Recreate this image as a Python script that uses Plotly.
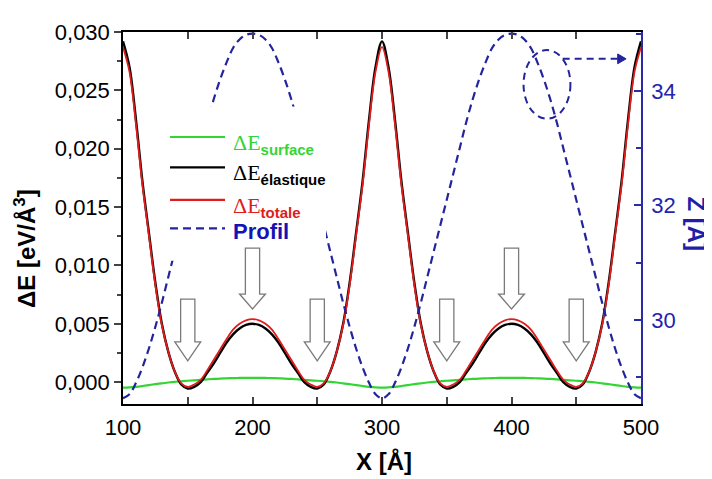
import plotly.graph_objects as go

# ---------------- data ----------------
X = list(range(100, 505, 5))

dE_surface = [
    -0.00047, -0.00045, -0.00040, -0.00033, -0.00025, -0.00017, -0.00010, -0.00003, 0.00003, 0.00008,
    0.00012, 0.00016, 0.00020, 0.00024, 0.00028, 0.00031, 0.00033, 0.00035, 0.00036, 0.00037, 0.00037,
    0.00037, 0.00036, 0.00035, 0.00033, 0.00031, 0.00028, 0.00024, 0.00020, 0.00016, 0.00012,
    0.00008, 0.00003, -0.00003, -0.00010, -0.00017, -0.00025, -0.00033, -0.00040, -0.00045, -0.00047,
    -0.00045, -0.00040, -0.00033, -0.00025, -0.00017, -0.00010, -0.00003, 0.00003, 0.00008, 0.00012,
    0.00016, 0.00020, 0.00024, 0.00028, 0.00031, 0.00033, 0.00035, 0.00036, 0.00037, 0.00037,
    0.00037, 0.00036, 0.00035, 0.00033, 0.00031, 0.00028, 0.00024, 0.00020, 0.00016, 0.00012,
    0.00008, 0.00003, -0.00003, -0.00010, -0.00017, -0.00025, -0.00033, -0.00040, -0.00045, -0.00047,
]

dE_elastique = [
    0.0292, 0.0270, 0.0225, 0.0172, 0.0128, 0.0085, 0.0050, 0.0026, 0.0009, -0.0002,
    -0.00055, -0.0004, 0.0000, 0.0008, 0.0016, 0.0025, 0.0034, 0.0041, 0.0046, 0.0049, 0.0050,
    0.0049, 0.0046, 0.0041, 0.0034, 0.0025, 0.0016, 0.0008, 0.0000, -0.0004, -0.00055,
    -0.0002, 0.0009, 0.0026, 0.0050, 0.0085, 0.0128, 0.0172, 0.0225, 0.0270, 0.0292,
    0.0270, 0.0225, 0.0172, 0.0128, 0.0085, 0.0050, 0.0026, 0.0009, -0.0002, -0.00055,
    -0.0004, 0.0000, 0.0008, 0.0016, 0.0025, 0.0034, 0.0041, 0.0046, 0.0049, 0.0050,
    0.0049, 0.0046, 0.0041, 0.0034, 0.0025, 0.0016, 0.0008, 0.0000, -0.0004, -0.00055,
    -0.0002, 0.0009, 0.0026, 0.0050, 0.0085, 0.0128, 0.0172, 0.0225, 0.0270, 0.0292,
]

dE_totale = [
    0.0287, 0.0266, 0.0221, 0.0169, 0.0126, 0.0083, 0.0049, 0.0026, 0.0009, -0.0001,
    -0.0004, -0.0002, 0.0002, 0.0010, 0.0019, 0.0028, 0.0037, 0.0045, 0.0050, 0.0053, 0.0054,
    0.0053, 0.0050, 0.0045, 0.0037, 0.0028, 0.0019, 0.0010, 0.0002, -0.0002, -0.0004,
    -0.0001, 0.0009, 0.0026, 0.0049, 0.0083, 0.0126, 0.0169, 0.0221, 0.0266, 0.0287,
    0.0266, 0.0221, 0.0169, 0.0126, 0.0083, 0.0049, 0.0026, 0.0009, -0.0001, -0.0004,
    -0.0002, 0.0002, 0.0010, 0.0019, 0.0028, 0.0037, 0.0045, 0.0050, 0.0053, 0.0054,
    0.0053, 0.0050, 0.0045, 0.0037, 0.0028, 0.0019, 0.0010, 0.0002, -0.0002, -0.0004,
    -0.0001, 0.0009, 0.0026, 0.0049, 0.0083, 0.0126, 0.0169, 0.0221, 0.0266, 0.0287,
]

profil_Z = [
    28.63, 28.70, 28.90, 29.17, 29.50, 29.88, 30.30, 30.75, 31.20, 31.65,
    32.10, 32.55, 33.00, 33.45, 33.85, 34.20, 34.50, 34.75, 34.90, 34.98, 35.00,
    34.98, 34.90, 34.75, 34.50, 34.20, 33.85, 33.45, 33.00, 32.55, 32.10,
    31.65, 31.20, 30.75, 30.30, 29.88, 29.50, 29.17, 28.90, 28.70, 28.63,
    28.70, 28.90, 29.17, 29.50, 29.88, 30.30, 30.75, 31.20, 31.65, 32.10,
    32.55, 33.00, 33.45, 33.85, 34.20, 34.50, 34.75, 34.90, 34.98, 35.00,
    34.98, 34.90, 34.75, 34.50, 34.20, 33.85, 33.45, 33.00, 32.55, 32.10,
    31.65, 31.20, 30.75, 30.30, 29.88, 29.50, 29.17, 28.90, 28.70, 28.63,
]

x_ticks = [100, 200, 300, 400, 500]
y_ticks = [0.000, 0.005, 0.010, 0.015, 0.020, 0.025, 0.030]
z_ticks = [30, 32, 34]
arrow_positions = [150, 200, 250, 350, 400, 450]
arrow_tall = [False, True, False, False, True, False]

# ---------------- styling ----------------
GREEN = "#35d435"
RED = "#e01c1c"
BLACK = "#000000"
BLUE = "#24249c"
AXBLUE = "#2b2ba6"
FONT = "Liberation Sans"

# plot area in page pixels; the page body adds an 8px margin
PAGE_W, PAGE_H, OFF = 712, 479, 8
L, R, T, B = 123, 641, 25, 404
W, H = PAGE_W - OFF, PAGE_H - OFF


def fx(px):
    return (px - L) / (R - L)


def fy(py):
    return (B - py) / (B - T)


fig = go.Figure()
fig.add_trace(go.Scatter(x=X, y=dE_surface, mode="lines", line=dict(color=GREEN, width=2.2, shape="spline"),
                         showlegend=False, name="ΔE surface"))
fig.add_trace(go.Scatter(x=X, y=dE_elastique, mode="lines", line=dict(color=BLACK, width=2.4, shape="spline"),
                         showlegend=False, name="ΔE élastique"))
fig.add_trace(go.Scatter(x=X, y=dE_totale, mode="lines", line=dict(color=RED, width=1.8, shape="spline"),
                         showlegend=False, name="ΔE totale"))
fig.add_trace(go.Scatter(x=X, y=profil_Z, mode="lines", yaxis="y2",
                         line=dict(color=BLUE, width=2.2, dash="8px,5px", shape="spline"),
                         showlegend=False, name="Profil"))

shapes = []
# white box behind the legend (hides the profile there)
shapes.append(dict(type="rect", xref="paper", yref="paper", x0=fx(158), x1=fx(326), y0=fy(258), y1=fy(101),
                   fillcolor="white", line=dict(width=0), layer="above"))
# legend samples
rows = [(132, GREEN, "solid"), (163, BLACK, "solid"), (196, RED, "solid"), (225, BLUE, "8px,5px")]
for ry, col, dash in rows:
    shapes.append(dict(type="line", xref="paper", yref="paper", x0=fx(170), x1=fx(225), y0=fy(ry), y1=fy(ry),
                       line=dict(color=col, width=2.2, dash=dash), layer="above"))

# block arrows
for xc, tall in zip(arrow_positions, arrow_tall):
    if tall:
        top, head, tip = 0.01148, 0.00755, 0.00627
    else:
        top, head, tip = 0.00711, 0.00345, 0.00182
    w, hw = 5.5, 10.0
    path = (f"M{xc - w},{top} L{xc + w},{top} L{xc + w},{head} L{xc + hw},{head} L{xc},{tip} "
            f"L{xc - hw},{head} L{xc - w},{head} Z")
    shapes.append(dict(type="path", xref="x", yref="y", path=path, fillcolor="white",
                       line=dict(color="#7a7a7a", width=1.3), layer="above"))

# dashed ellipse + dashed arrow
shapes.append(dict(type="circle", xref="x", yref="y", x0=409.3, x1=445.5, y0=0.02257, y1=0.02845,
                   line=dict(color=BLUE, width=2, dash="7px,5px"), layer="above"))
shapes.append(dict(type="line", xref="x", yref="y", x0=439.5, x1=483.0, y0=0.0277, y1=0.0277,
                   line=dict(color=BLUE, width=2, dash="7px,5px"), layer="above"))
shapes.append(dict(type="path", xref="x", yref="y",
                   path="M482.0,0.02812 L488.5,0.0277 L482.0,0.02728 Z",
                   fillcolor=BLUE, line=dict(color=BLUE, width=1), layer="above"))

SUB = "font-family:'Liberation Sans';font-weight:bold;font-size:15px"
annotations = [
    dict(x=fx(231), y=fy(139), xref="paper", yref="paper", xanchor="left", yanchor="middle", showarrow=False,
         text=f"ΔE<sub><span style=\"{SUB}\">surface</span></sub>",
         font=dict(family="Liberation Serif", size=22, color=GREEN)),
    dict(x=fx(231), y=fy(170), xref="paper", yref="paper", xanchor="left", yanchor="middle", showarrow=False,
         text=f"ΔE<sub><span style=\"{SUB}\">élastique</span></sub>",
         font=dict(family="Liberation Serif", size=22, color=BLACK)),
    dict(x=fx(231), y=fy(203), xref="paper", yref="paper", xanchor="left", yanchor="middle", showarrow=False,
         text=f"ΔE<sub><span style=\"{SUB}\">totale</span></sub>",
         font=dict(family="Liberation Serif", size=22, color=RED)),
    dict(x=fx(231), y=fy(228), xref="paper", yref="paper", xanchor="left", yanchor="middle", showarrow=False,
         text="<b>Profil</b>", font=dict(family=FONT, size=22, color="#1414b4")),
    # axis titles
    dict(x=fx(384), y=fy(463), xref="paper", yref="paper", xanchor="center", yanchor="middle", showarrow=False,
         text="<b>X [Å]</b>", font=dict(family=FONT, size=24, color="black")),
    dict(x=fx(25), y=fy(246), xref="paper", yref="paper", xanchor="center", yanchor="middle", showarrow=False,
         text="<b>ΔE [eV/Å<sup>3</sup>]</b>", textangle=-90, font=dict(family=FONT, size=24, color="black")),
    dict(x=fx(697), y=fy(220), xref="paper", yref="paper", xanchor="center", yanchor="middle", showarrow=False,
         text="<b>Z [Å]</b>", textangle=90, font=dict(family=FONT, size=24, color="#1f1fa8")),
]

fig.update_layout(
    width=W, height=H,
    margin=dict(l=L - OFF, r=PAGE_W - R, t=T - OFF, b=PAGE_H - B, pad=0),
    paper_bgcolor="white", plot_bgcolor="white",
    separators=",.",
    font=dict(family=FONT, size=22, color="black"),
    showlegend=False,
    shapes=shapes,
    annotations=annotations,
    xaxis=dict(range=[100, 500], tickvals=x_ticks, ticks="inside", ticklen=7, tickwidth=1.5,
               showgrid=False, zeroline=False, showline=True, linecolor="black", linewidth=1.5,
               mirror="allticks", tickfont=dict(size=22, color="black"), ticklabelstandoff=3,
               minor=dict(dtick=50, tick0=100, ticks="inside", ticklen=4, tickwidth=1.5, showgrid=False)),
    yaxis=dict(range=[-0.00187, 0.030], tickvals=y_ticks, tickformat=".3f", ticks="outside", ticklen=7,
               tickwidth=1.5, showgrid=False, zeroline=False, showline=True, linecolor="black", linewidth=1.5,
               tickfont=dict(size=22, color="black"),
               minor=dict(dtick=0.0025, tick0=0, ticks="outside", ticklen=4, tickwidth=1.5, showgrid=False)),
    yaxis2=dict(range=[28.53, 35.03], overlaying="y", side="right", tickvals=z_ticks, ticks="inside",
                ticklen=7, tickwidth=1.5, showgrid=False, zeroline=False, showline=True, linecolor=AXBLUE,
                linewidth=1.5, tickcolor=AXBLUE, tickfont=dict(size=22, color="#2323b0"), ticklabelstandoff=4,
                minor=dict(dtick=1, tick0=29, ticks="inside", ticklen=5, tickwidth=1.5, showgrid=False,
                           tickcolor=AXBLUE)),
)

fig.write_html("out.html")
